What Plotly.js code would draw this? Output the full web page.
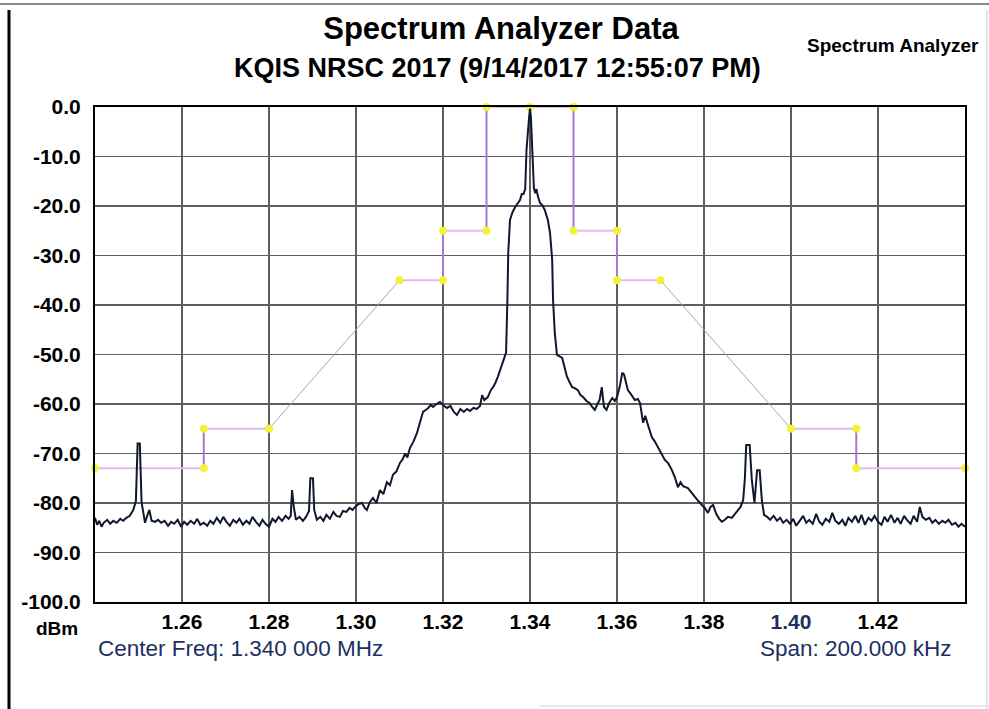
<!DOCTYPE html>
<html>
<head>
<meta charset="utf-8">
<script src="https://cdn.plot.ly/plotly-3.0.1.min.js"></script>
<style>html,body{margin:0;padding:0;background:#fff;}#chart{width:989px;height:709px;}</style>
</head>
<body>
<div id="chart"></div>
<script>
// ---- Data (MHz, dBm) ----
const freq = [
1.2400,1.2405,1.2410,1.2415,1.2420,1.2428,1.2435,1.2442,1.2450,1.2458,1.2465,1.2472,1.2480,1.2488,1.2494,1.2498,1.2503,1.2507,1.2510,1.2515,
1.2520,1.2525,1.2530,1.2538,1.2545,1.2552,1.2560,1.2568,1.2575,1.2582,1.2590,1.2598,1.2605,1.2612,1.2620,1.2628,1.2635,1.2642,1.2650,1.2658,
1.2665,1.2672,1.2680,1.2688,1.2695,1.2702,1.2710,1.2718,1.2725,1.2732,1.2740,1.2748,1.2755,1.2762,1.2770,1.2778,1.2785,1.2792,1.2800,1.2808,
1.2815,1.2822,1.2830,1.2838,1.2845,1.2850,1.2853,1.2857,1.2862,1.2870,1.2878,1.2885,1.2892,1.2895,1.2901,1.2904,1.2910,1.2918,1.2925,1.2932,
1.2940,1.2948,1.2955,1.2963,1.2970,1.2978,1.2985,1.2992,1.2998,1.3006,1.3014,1.3020,1.3025,1.3032,1.3039,1.3047,1.3055,1.3063,1.3071,1.3078,
1.3085,1.3093,1.3101,1.3107,1.3113,1.3118,1.3124,1.3132,1.3140,1.3147,1.3154,1.3160,1.3165,1.3172,1.3177,1.3185,1.3193,1.3200,1.3209,1.3217,
1.3225,1.3232,1.3240,1.3248,1.3255,1.3262,1.3270,1.3278,1.3285,1.3290,1.3295,1.3303,1.3310,1.3315,1.3320,1.3326,1.3332,1.3338,1.3345,1.3348,
1.3350,1.3354,1.3360,1.3366,1.3372,1.3377,1.3381,1.3385,1.3389,1.3392,1.3398,1.3400,1.3402,1.3406,1.3409,1.3412,1.3415,1.3418,1.3423,1.3428,
1.3434,1.3441,1.3446,1.3451,1.3453,1.3457,1.3462,1.3468,1.3474,1.3480,1.3485,1.3491,1.3497,1.3503,1.3510,1.3516,1.3522,1.3530,1.3537,1.3543,
1.3549,1.3555,1.3560,1.3565,1.3570,1.3576,1.3582,1.3589,1.3595,1.3600,1.3607,1.3612,1.3616,1.3620,1.3625,1.3632,1.3641,1.3648,1.3653,1.3660,
1.3665,1.3671,1.3676,1.3680,1.3687,1.3694,1.3702,1.3710,1.3718,1.3726,1.3733,1.3740,1.3746,1.3752,1.3763,1.3770,1.3779,1.3787,1.3795,1.3802,
1.3809,1.3815,1.3821,1.3828,1.3835,1.3841,1.3848,1.3855,1.3864,1.3871,1.3878,1.3884,1.3890,1.3894,1.3897,1.3905,1.3910,1.3916,1.3922,1.3928,
1.3933,1.3938,1.3945,1.3952,1.3960,1.3968,1.3975,1.3982,1.3990,1.3998,1.4005,1.4012,1.4020,1.4028,1.4035,1.4042,1.4050,1.4058,1.4065,1.4072,
1.4080,1.4088,1.4095,1.4102,1.4110,1.4118,1.4125,1.4132,1.4140,1.4148,1.4155,1.4162,1.4170,1.4178,1.4185,1.4192,1.4200,1.4208,1.4215,1.4222,
1.4230,1.4238,1.4245,1.4252,1.4260,1.4268,1.4275,1.4282,1.4290,1.4296,1.4302,1.4310,1.4318,1.4325,1.4332,1.4340,1.4348,1.4355,1.4362,1.4370,
1.4378,1.4385,1.4392,1.4400
];
const level = [
-83.0,-84.4,-83.6,-84.8,-84.0,-83.4,-84.2,-83.6,-84.0,-83.2,-83.6,-83.0,-82.6,-81.4,-79.6,-68.0,-68.0,-79.8,-81.4,-84.0,
-82.6,-81.4,-83.6,-83.8,-83.4,-84.0,-83.6,-84.6,-83.8,-84.2,-83.4,-84.8,-83.8,-84.4,-83.6,-84.2,-83.2,-84.4,-84.0,-84.6,
-83.6,-84.2,-83.0,-84.0,-82.8,-83.8,-84.6,-83.4,-84.0,-83.2,-84.4,-83.6,-84.2,-82.8,-83.8,-84.6,-83.4,-84.2,-84.8,-83.2,
-83.8,-82.8,-83.6,-82.6,-83.2,-82.6,-77.4,-80.8,-83.4,-82.8,-83.6,-82.8,-81.6,-75.0,-75.0,-81.4,-83.4,-82.8,-83.6,-82.4,
-83.2,-81.8,-82.6,-82.8,-81.6,-81.8,-81.0,-81.4,-80.8,-80.2,-80.0,-81.0,-81.4,-79.8,-79.0,-80.0,-77.4,-78.2,-75.8,-76.4,
-74.3,-73.6,-71.9,-71.2,-70.0,-70.8,-68.9,-67.6,-65.9,-63.6,-61.6,-61.2,-60.9,-60.2,-60.6,-60.0,-59.6,-60.2,-60.8,-60.4,
-61.6,-62.2,-61.0,-61.6,-61.0,-61.4,-60.8,-61.0,-60.4,-58.2,-59.2,-58.6,-57.2,-56.6,-55.8,-54.5,-53.0,-51.7,-49.6,-39.0,
-29.5,-22.8,-21.2,-20.2,-19.4,-18.8,-17.6,-17.6,-16.6,-8.6,-2.0,-0.3,-2.0,-8.6,-16.4,-17.4,-16.6,-18.0,-19.4,-19.8,
-20.8,-22.8,-25.4,-30.9,-39.0,-45.7,-50.1,-50.4,-50.7,-52.8,-54.5,-55.6,-56.6,-56.8,-57.2,-58.2,-58.6,-59.4,-59.8,-60.6,
-61.2,-60.0,-59.2,-56.6,-60.6,-61.2,-59.8,-58.8,-59.4,-58.6,-56.2,-53.7,-54.0,-55.4,-57.2,-58.0,-59.2,-59.0,-59.8,-63.8,
-62.4,-64.2,-65.4,-66.7,-67.6,-68.7,-70.0,-71.3,-72.0,-73.3,-74.8,-76.8,-75.8,-76.6,-77.0,-77.8,-78.8,-79.6,-80.4,-81.0,
-82.0,-80.8,-80.4,-82.2,-83.2,-83.8,-83.4,-82.8,-83.0,-82.2,-81.4,-80.8,-79.4,-75.0,-68.3,-68.3,-75.4,-80.0,-73.4,-73.4,
-79.4,-82.4,-82.8,-83.4,-82.6,-83.6,-83.0,-84.0,-83.4,-84.2,-83.2,-84.6,-83.6,-82.6,-84.0,-83.4,-84.2,-82.2,-83.8,-84.4,
-83.2,-83.8,-82.0,-83.6,-84.2,-83.4,-84.6,-83.0,-83.8,-82.6,-84.0,-82.4,-84.4,-83.0,-83.6,-82.6,-83.8,-84.4,-82.8,-83.8,
-82.4,-84.0,-83.0,-84.2,-82.6,-83.6,-84.2,-82.6,-83.8,-80.8,-82.8,-83.4,-83.0,-84.0,-83.4,-84.2,-83.6,-84.0,-83.4,-84.4,
-84.0,-84.8,-84.2,-84.8
];
// Emission mask vertices
const maskFreq  = [1.24, 1.265, 1.265, 1.28, 1.31, 1.32, 1.32, 1.33, 1.33, 1.34, 1.35, 1.35, 1.36, 1.36, 1.37, 1.40, 1.415, 1.415, 1.44];
const maskLevel = [-73, -73, -65, -65, -35, -35, -25, -25, 0, 0, 0, -25, -25, -35, -35, -65, -65, -73, -73];
// Axis ticks
const xTickVals = [1.26, 1.28, 1.30, 1.32, 1.34, 1.36, 1.38, 1.40, 1.42];
const xTickText = ['1.26', '1.28', '1.30', '1.32', '1.34', '1.36', '1.38', '<span style="color:#1c2f63">1.40</span>', '1.42'];
const yTickVals = [0, -10, -20, -30, -40, -50, -60, -70, -80, -90, -100];
const yTickText = ['0.0', '-10.0', '-20.0', '-30.0', '-40.0', '-50.0', '-60.0', '-70.0', '-80.0', '-90.0', '-100.0'];

// ---- build mask segment traces ----
const hx = [], hy = [], vx = [], vy = [], dx = [], dy = [];
for (let i = 0; i < maskFreq.length - 1; i++) {
  const a = [maskFreq[i], maskFreq[i + 1]], b = [maskLevel[i], maskLevel[i + 1]];
  let tx, ty;
  if (b[0] === b[1]) { tx = hx; ty = hy; }
  else if (a[0] === a[1]) { tx = vx; ty = vy; }
  else { tx = dx; ty = dy; }
  tx.push(a[0], a[1], null); ty.push(b[0], b[1], null);
}

const FONT = 'Liberation Sans, Arial, Helvetica, sans-serif';
const traces = [
  {x: dx, y: dy, mode: 'lines', line: {color: '#a8a8a8', width: 1}, hoverinfo: 'skip', cliponaxis: false},
  {x: hx, y: hy, mode: 'lines', line: {color: '#e0bce8', width: 2}, hoverinfo: 'skip', cliponaxis: false},
  {x: vx, y: vy, mode: 'lines', line: {color: '#a27ad0', width: 2}, hoverinfo: 'skip', cliponaxis: false},
  {x: maskFreq, y: maskLevel, mode: 'markers', marker: {color: '#f2f23a', size: 8}, hoverinfo: 'skip', cliponaxis: false},
  {x: freq, y: level, mode: 'lines', line: {color: '#101830', width: 2}, hoverinfo: 'x+y'}
];

const Lp = 95, Rp = 965, Tp = 107, Bp = 602;
const px = x => (x - Lp) / (Rp - Lp);
const py = y => (Bp - y) / (Bp - Tp);

const layout = {
  width: 989, height: 709,
  margin: {l: Lp, r: 989 - Rp, t: Tp, b: 709 - Bp},
  paper_bgcolor: '#ffffff', plot_bgcolor: '#ffffff',
  showlegend: false,
  font: {family: FONT, color: '#000'},
  title: {text: '<b>Spectrum Analyzer Data</b>', font: {family: FONT, size: 31, color: '#000'},
          x: 501 / 989, xanchor: 'center', xref: 'container', y: 1 - 28 / 709, yanchor: 'middle', yref: 'container'},
  xaxis: {
    range: [1.24, 1.44], tickvals: xTickVals, ticktext: xTickText,
    showgrid: true, gridcolor: '#5e5e5e', gridwidth: 1.4, zeroline: false,
    showline: true, mirror: true, linecolor: '#000', linewidth: 2,
    ticks: '', ticklabelstandoff: 0,
    tickfont: {family: FONT, size: 21, color: '#000', weight: 'bold'}
  },
  yaxis: {
    range: [-100, 0], tickvals: yTickVals, ticktext: yTickText,
    showgrid: true, gridcolor: '#5e5e5e', gridwidth: 1.4, zeroline: false,
    showline: true, mirror: true, linecolor: '#000', linewidth: 2,
    ticks: '', ticklabelstandoff: 8,
    tickfont: {family: FONT, size: 21, color: '#000', weight: 'bold'}
  },
  annotations: [
    {text: '<b>KQIS NRSC 2017 (9/14/2017 12:55:07 PM)</b>', x: px(497), y: py(68), xref: 'paper', yref: 'paper',
     xanchor: 'center', yanchor: 'middle', showarrow: false, font: {family: FONT, size: 27, color: '#000'}},
    {text: '<b>Spectrum Analyzer</b>', x: px(805), y: py(45), xref: 'paper', yref: 'paper',
     xanchor: 'left', yanchor: 'middle', showarrow: false, font: {family: FONT, size: 19, color: '#000'}},
    {text: '<b>dBm</b>', x: px(80), y: py(628), xref: 'paper', yref: 'paper',
     xanchor: 'right', yanchor: 'middle', showarrow: false, font: {family: FONT, size: 19, color: '#000'}},
    {text: 'Center Freq: 1.340 000 MHz', x: px(96), y: py(648), xref: 'paper', yref: 'paper',
     xanchor: 'left', yanchor: 'middle', showarrow: false, font: {family: FONT, size: 22.5, color: '#1c2f63'}},
    {text: 'Span: 200.000 kHz', x: px(953), y: py(648), xref: 'paper', yref: 'paper',
     xanchor: 'right', yanchor: 'middle', showarrow: false, font: {family: FONT, size: 22.5, color: '#1c2f63'}}
  ],
  shapes: [
    {type: 'line', xref: 'paper', yref: 'paper', x0: px(9), x1: px(9), y0: py(10), y1: py(709), line: {color: '#000', width: 3}},
    {type: 'line', xref: 'paper', yref: 'paper', x0: px(0), x1: px(989), y0: py(4), y1: py(4), line: {color: '#8a8a8a', width: 2}},
    {type: 'line', xref: 'paper', yref: 'paper', x0: px(987), x1: px(987), y0: py(10), y1: py(709), line: {color: '#dcdcdc', width: 1.5}},
    {type: 'line', xref: 'paper', yref: 'paper', x0: px(540), x1: px(989), y0: py(706), y1: py(706), line: {color: '#e2e2e2', width: 1.5}}
  ]
};

Plotly.newPlot('chart', traces, layout, {displayModeBar: false, staticPlot: true});
</script>
</body>
</html>
